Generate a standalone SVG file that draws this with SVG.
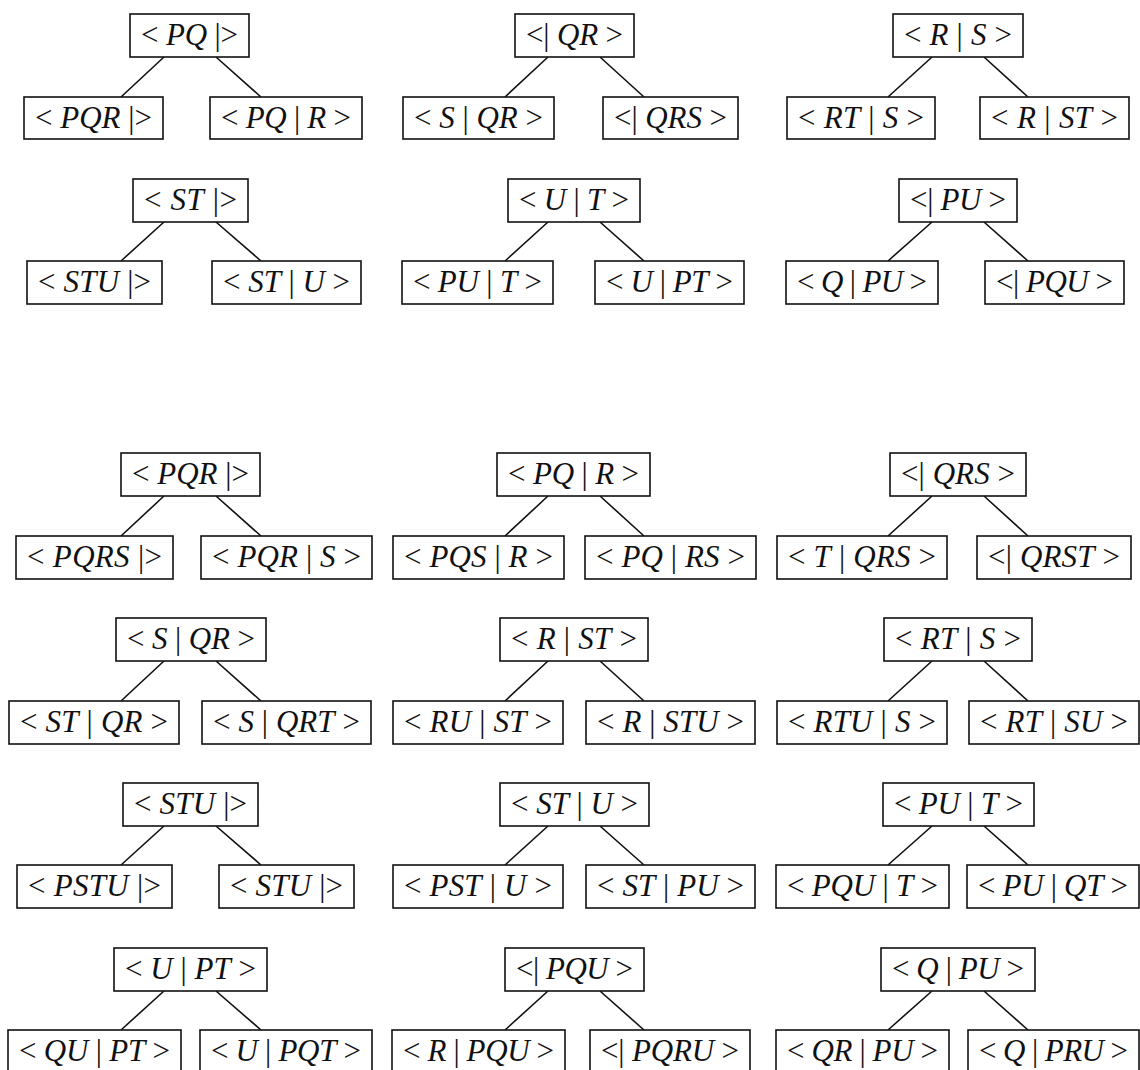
<svg xmlns="http://www.w3.org/2000/svg" width="1140" height="1070" viewBox="0 0 1140 1070">
<style>
.box{fill:#fff;stroke:#111;stroke-width:1.6}
.edge{stroke:#111;stroke-width:1.6;fill:none}
text{font-family:"Liberation Serif","Times New Roman",serif;font-size:31px;text-anchor:middle;fill:#111}
.i{font-style:italic}
</style>
<rect width="1140" height="1070" fill="#fff"/>
<g id="connectors">
<path class="edge" d="M164 57L121 97M216 57L261 97M548 57L505 97M600 57L644 97M932 57L888 97M984 57L1028 97"/>
<path class="edge" d="M164 222L121 261M216 222L261 261M548 222L505 261M600 222L644 261M932 222L888 261M984 222L1028 261"/>
<path class="edge" d="M164 496L121 536M216 496L261 536M548 496L505 536M600 496L644 536M932 496L888 536M984 496L1028 536"/>
<path class="edge" d="M164 661L121 701M216 661L261 701M548 661L505 701M600 661L644 701M932 661L888 701M984 661L1028 701"/>
<path class="edge" d="M164 826L121 865M216 826L261 865M548 826L505 865M600 826L644 865M932 826L888 865M984 826L1028 865"/>
<path class="edge" d="M164 991L121 1030M216 991L261 1030M548 991L505 1030M600 991L644 1030M932 991L888 1030M984 991L1028 1030"/>
</g>
<!-- Top section row 1 -->
<g id="t1-root"><rect class="box" x="130" y="14" width="119" height="43"/><text x="189.5" y="45" textLength="97" lengthAdjust="spacing">&lt; <tspan class="i">PQ</tspan> |&gt;</text></g>
<g id="t1-left"><rect class="box" x="24" y="97" width="139" height="42"/><text x="93.5" y="128" textLength="117" lengthAdjust="spacing">&lt; <tspan class="i">PQR</tspan> |&gt;</text></g>
<g id="t1-right"><rect class="box" x="210" y="97" width="152" height="42"/><text x="286" y="128" textLength="130" lengthAdjust="spacing">&lt; <tspan class="i">PQ</tspan> | <tspan class="i">R</tspan> &gt;</text></g>
<g id="t2-root"><rect class="box" x="515" y="14" width="119" height="43"/><text x="574.5" y="45" textLength="97" lengthAdjust="spacing">&lt;| <tspan class="i">QR</tspan> &gt;</text></g>
<g id="t2-left"><rect class="box" x="403" y="97" width="151" height="42"/><text x="478.5" y="128" textLength="129" lengthAdjust="spacing">&lt; <tspan class="i">S</tspan> | <tspan class="i">QR</tspan> &gt;</text></g>
<g id="t2-right"><rect class="box" x="603" y="97" width="135" height="42"/><text x="670.5" y="128" textLength="113" lengthAdjust="spacing">&lt;| <tspan class="i">QRS</tspan> &gt;</text></g>
<g id="t3-root"><rect class="box" x="893" y="14" width="130" height="43"/><text x="958" y="45" textLength="108" lengthAdjust="spacing">&lt; <tspan class="i">R</tspan> | <tspan class="i">S</tspan> &gt;</text></g>
<g id="t3-left"><rect class="box" x="787" y="97" width="148" height="42"/><text x="861" y="128" textLength="126" lengthAdjust="spacing">&lt; <tspan class="i">RT</tspan> | <tspan class="i">S</tspan> &gt;</text></g>
<g id="t3-right"><rect class="box" x="980" y="97" width="149" height="42"/><text x="1054.5" y="128" textLength="127" lengthAdjust="spacing">&lt; <tspan class="i">R</tspan> | <tspan class="i">ST</tspan> &gt;</text></g>
<!-- Top section row 2 -->
<g id="t4-root"><rect class="box" x="133" y="179" width="115" height="43"/><text x="190.5" y="210" textLength="93" lengthAdjust="spacing">&lt; <tspan class="i">ST</tspan> |&gt;</text></g>
<g id="t4-left"><rect class="box" x="27" y="261" width="135" height="43"/><text x="94.5" y="292" textLength="113" lengthAdjust="spacing">&lt; <tspan class="i">STU</tspan> |&gt;</text></g>
<g id="t4-right"><rect class="box" x="212" y="261" width="149" height="43"/><text x="286.5" y="292" textLength="127" lengthAdjust="spacing">&lt; <tspan class="i">ST</tspan> | <tspan class="i">U</tspan> &gt;</text></g>
<g id="t5-root"><rect class="box" x="508" y="179" width="132" height="43"/><text x="574" y="210" textLength="110" lengthAdjust="spacing">&lt; <tspan class="i">U</tspan> | <tspan class="i">T</tspan> &gt;</text></g>
<g id="t5-left"><rect class="box" x="402" y="261" width="151" height="43"/><text x="477.5" y="292" textLength="129" lengthAdjust="spacing">&lt; <tspan class="i">PU</tspan> | <tspan class="i">T</tspan> &gt;</text></g>
<g id="t5-right"><rect class="box" x="595" y="261" width="149" height="43"/><text x="669.5" y="292" textLength="127" lengthAdjust="spacing">&lt; <tspan class="i">U</tspan> | <tspan class="i">PT</tspan> &gt;</text></g>
<g id="t6-root"><rect class="box" x="899" y="179" width="118" height="43"/><text x="958" y="210" textLength="96" lengthAdjust="spacing">&lt;| <tspan class="i">PU</tspan> &gt;</text></g>
<g id="t6-left"><rect class="box" x="786" y="261" width="152" height="43"/><text x="862" y="292" textLength="130" lengthAdjust="spacing">&lt; <tspan class="i">Q</tspan> | <tspan class="i">PU</tspan> &gt;</text></g>
<g id="t6-right"><rect class="box" x="985" y="261" width="139" height="43"/><text x="1054.5" y="292" textLength="117" lengthAdjust="spacing">&lt;| <tspan class="i">PQU</tspan> &gt;</text></g>
<!-- Bottom section row A -->
<g id="a1-root"><rect class="box" x="121" y="453" width="139" height="43"/><text x="190.5" y="484" textLength="117" lengthAdjust="spacing">&lt; <tspan class="i">PQR</tspan> |&gt;</text></g>
<g id="a1-left"><rect class="box" x="16" y="536" width="157" height="43"/><text x="94.5" y="567" textLength="135" lengthAdjust="spacing">&lt; <tspan class="i">PQRS</tspan> |&gt;</text></g>
<g id="a1-right"><rect class="box" x="201" y="536" width="171" height="43"/><text x="286.5" y="567" textLength="149" lengthAdjust="spacing">&lt; <tspan class="i">PQR</tspan> | <tspan class="i">S</tspan> &gt;</text></g>
<g id="a2-root"><rect class="box" x="497" y="453" width="153" height="43"/><text x="573.5" y="484" textLength="131" lengthAdjust="spacing">&lt; <tspan class="i">PQ</tspan> | <tspan class="i">R</tspan> &gt;</text></g>
<g id="a2-left"><rect class="box" x="393" y="536" width="171" height="43"/><text x="478.5" y="567" textLength="149" lengthAdjust="spacing">&lt; <tspan class="i">PQS</tspan> | <tspan class="i">R</tspan> &gt;</text></g>
<g id="a2-right"><rect class="box" x="585" y="536" width="171" height="43"/><text x="670.5" y="567" textLength="149" lengthAdjust="spacing">&lt; <tspan class="i">PQ</tspan> | <tspan class="i">RS</tspan> &gt;</text></g>
<g id="a3-root"><rect class="box" x="890" y="453" width="136" height="43"/><text x="958" y="484" textLength="114" lengthAdjust="spacing">&lt;| <tspan class="i">QRS</tspan> &gt;</text></g>
<g id="a3-left"><rect class="box" x="777" y="536" width="170" height="43"/><text x="862" y="567" textLength="148" lengthAdjust="spacing">&lt; <tspan class="i">T</tspan> | <tspan class="i">QRS</tspan> &gt;</text></g>
<g id="a3-right"><rect class="box" x="977" y="536" width="154" height="43"/><text x="1054" y="567" textLength="132" lengthAdjust="spacing">&lt;| <tspan class="i">QRST</tspan> &gt;</text></g>
<!-- Row B -->
<g id="b1-root"><rect class="box" x="116" y="618" width="150" height="43"/><text x="191" y="649" textLength="128" lengthAdjust="spacing">&lt; <tspan class="i">S</tspan> | <tspan class="i">QR</tspan> &gt;</text></g>
<g id="b1-left"><rect class="box" x="9" y="701" width="170" height="43"/><text x="94" y="732" textLength="148" lengthAdjust="spacing">&lt; <tspan class="i">ST</tspan> | <tspan class="i">QR</tspan> &gt;</text></g>
<g id="b1-right"><rect class="box" x="202" y="701" width="169" height="43"/><text x="286.5" y="732" textLength="147" lengthAdjust="spacing">&lt; <tspan class="i">S</tspan> | <tspan class="i">QRT</tspan> &gt;</text></g>
<g id="b2-root"><rect class="box" x="500" y="618" width="148" height="43"/><text x="574" y="649" textLength="126" lengthAdjust="spacing">&lt; <tspan class="i">R</tspan> | <tspan class="i">ST</tspan> &gt;</text></g>
<g id="b2-left"><rect class="box" x="393" y="701" width="170" height="43"/><text x="478" y="732" textLength="148" lengthAdjust="spacing">&lt; <tspan class="i">RU</tspan> | <tspan class="i">ST</tspan> &gt;</text></g>
<g id="b2-right"><rect class="box" x="586" y="701" width="169" height="43"/><text x="670.5" y="732" textLength="147" lengthAdjust="spacing">&lt; <tspan class="i">R</tspan> | <tspan class="i">STU</tspan> &gt;</text></g>
<g id="b3-root"><rect class="box" x="884" y="618" width="148" height="43"/><text x="958" y="649" textLength="126" lengthAdjust="spacing">&lt; <tspan class="i">RT</tspan> | <tspan class="i">S</tspan> &gt;</text></g>
<g id="b3-left"><rect class="box" x="777" y="701" width="170" height="43"/><text x="862" y="732" textLength="148" lengthAdjust="spacing">&lt; <tspan class="i">RTU</tspan> | <tspan class="i">S</tspan> &gt;</text></g>
<g id="b3-right"><rect class="box" x="969" y="701" width="170" height="43"/><text x="1054" y="732" textLength="148" lengthAdjust="spacing">&lt; <tspan class="i">RT</tspan> | <tspan class="i">SU</tspan> &gt;</text></g>
<!-- Row C -->
<g id="c1-root"><rect class="box" x="123" y="783" width="135" height="43"/><text x="190.5" y="814" textLength="113" lengthAdjust="spacing">&lt; <tspan class="i">STU</tspan> |&gt;</text></g>
<g id="c1-left"><rect class="box" x="17" y="865" width="155" height="43"/><text x="94.5" y="896" textLength="133" lengthAdjust="spacing">&lt; <tspan class="i">PSTU</tspan> |&gt;</text></g>
<g id="c1-right"><rect class="box" x="219" y="865" width="135" height="43"/><text x="286.5" y="896" textLength="113" lengthAdjust="spacing">&lt; <tspan class="i">STU</tspan> |&gt;</text></g>
<g id="c2-root"><rect class="box" x="500" y="783" width="149" height="43"/><text x="574.5" y="814" textLength="127" lengthAdjust="spacing">&lt; <tspan class="i">ST</tspan> | <tspan class="i">U</tspan> &gt;</text></g>
<g id="c2-left"><rect class="box" x="393" y="865" width="170" height="43"/><text x="478" y="896" textLength="148" lengthAdjust="spacing">&lt; <tspan class="i">PST</tspan> | <tspan class="i">U</tspan> &gt;</text></g>
<g id="c2-right"><rect class="box" x="586" y="865" width="169" height="43"/><text x="670.5" y="896" textLength="147" lengthAdjust="spacing">&lt; <tspan class="i">ST</tspan> | <tspan class="i">PU</tspan> &gt;</text></g>
<g id="c3-root"><rect class="box" x="883" y="783" width="151" height="43"/><text x="958.5" y="814" textLength="129" lengthAdjust="spacing">&lt; <tspan class="i">PU</tspan> | <tspan class="i">T</tspan> &gt;</text></g>
<g id="c3-left"><rect class="box" x="776" y="865" width="173" height="43"/><text x="862.5" y="896" textLength="151" lengthAdjust="spacing">&lt; <tspan class="i">PQU</tspan> | <tspan class="i">T</tspan> &gt;</text></g>
<g id="c3-right"><rect class="box" x="967" y="865" width="172" height="43"/><text x="1053" y="896" textLength="150" lengthAdjust="spacing">&lt; <tspan class="i">PU</tspan> | <tspan class="i">QT</tspan> &gt;</text></g>
<!-- Row D -->
<g id="d1-root"><rect class="box" x="114" y="948" width="153" height="43"/><text x="190.5" y="979" textLength="131" lengthAdjust="spacing">&lt; <tspan class="i">U</tspan> | <tspan class="i">PT</tspan> &gt;</text></g>
<g id="d1-left"><rect class="box" x="8" y="1030" width="173" height="43"/><text x="94.5" y="1061" textLength="151" lengthAdjust="spacing">&lt; <tspan class="i">QU</tspan> | <tspan class="i">PT</tspan> &gt;</text></g>
<g id="d1-right"><rect class="box" x="200" y="1030" width="172" height="43"/><text x="286" y="1061" textLength="150" lengthAdjust="spacing">&lt; <tspan class="i">U</tspan> | <tspan class="i">PQT</tspan> &gt;</text></g>
<g id="d2-root"><rect class="box" x="505" y="948" width="139" height="43"/><text x="574.5" y="979" textLength="117" lengthAdjust="spacing">&lt;| <tspan class="i">PQU</tspan> &gt;</text></g>
<g id="d2-left"><rect class="box" x="392" y="1030" width="173" height="43"/><text x="478.5" y="1061" textLength="151" lengthAdjust="spacing">&lt; <tspan class="i">R</tspan> | <tspan class="i">PQU</tspan> &gt;</text></g>
<g id="d2-right"><rect class="box" x="590" y="1030" width="160" height="43"/><text x="670" y="1061" textLength="138" lengthAdjust="spacing">&lt;| <tspan class="i">PQRU</tspan> &gt;</text></g>
<g id="d3-root"><rect class="box" x="881" y="948" width="154" height="43"/><text x="958" y="979" textLength="132" lengthAdjust="spacing">&lt; <tspan class="i">Q</tspan> | <tspan class="i">PU</tspan> &gt;</text></g>
<g id="d3-left"><rect class="box" x="776" y="1030" width="173" height="43"/><text x="862.5" y="1061" textLength="151" lengthAdjust="spacing">&lt; <tspan class="i">QR</tspan> | <tspan class="i">PU</tspan> &gt;</text></g>
<g id="d3-right"><rect class="box" x="968" y="1030" width="171" height="43"/><text x="1053.5" y="1061" textLength="149" lengthAdjust="spacing">&lt; <tspan class="i">Q</tspan> | <tspan class="i">PRU</tspan> &gt;</text></g>
</svg>
